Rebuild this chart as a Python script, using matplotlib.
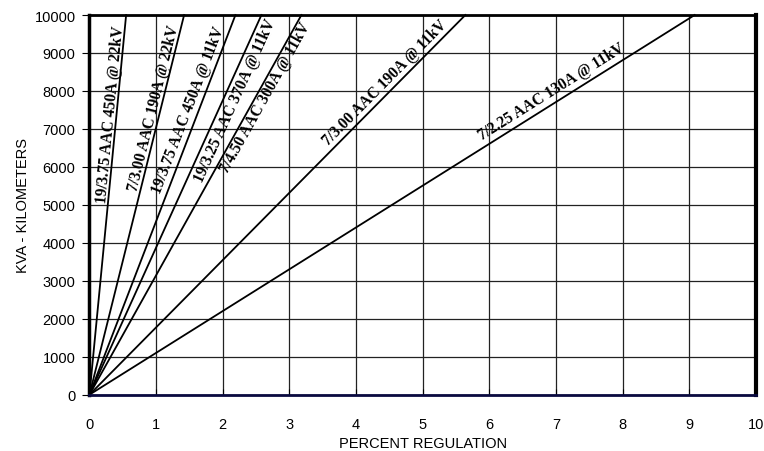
import numpy as np
import matplotlib
matplotlib.use('Agg')
import matplotlib.pyplot as plt
from matplotlib.transforms import offset_copy

# percent regulation reached at 10000 kVA-km for each conductor
labels = ['19/3.75 AAC 450A @ 22kV',
          '7/3.00 AAC 190A @ 22kV',
          '19/3.75 AAC 450A @ 11kV',
          '19/3.25 AAC 370A @ 11kV',
          '7/4.50 AAC 300A @ 11kV',
          '7/3.00 AAC 190A @ 11kV',
          '7/2.25 AAC 130A @ 11kV']
reg_at_10000 = [0.55, 1.42, 2.19, 2.58, 3.18, 5.64, 9.08]

# where the label sits along its line (kVA-km) and which side (+ above / - below, pixels)
label_y = [7380, 7530, 7430, 7880, 7950, 8045, 7740]
label_off = [6, 7, 10, -11, -9, 10, 11]

kva_km = [0, 10000]

fig = plt.figure(figsize=(7.64, 4.52), dpi=100)
ax = fig.add_axes([0.1171, 0.1246, 0.8724, 0.8400])

ax.set_xlim(0, 10)
ax.set_ylim(0, 10000)
ax.set_xticks(range(0, 11))
ax.set_yticks(range(0, 10001, 1000))
ax.grid(True, color='#222222', lw=0.9)
ax.set_axisbelow(True)

for lab, r, ly, off in zip(labels, reg_at_10000, label_y, label_off):
    ax.plot([0, r], kva_km, color='black', lw=1.3, clip_on=False)
    ang = np.degrees(np.arctan2(10000, r))
    # screen angle of the line, to push the text off it
    p0 = ax.transData.transform((0, 0))
    p1 = ax.transData.transform((r, 10000))
    th = np.arctan2(p1[1] - p0[1], p1[0] - p0[0])
    tr = offset_copy(ax.transData, fig=fig, x=-off * np.sin(th), y=off * np.cos(th), units='dots')
    ax.text(r * ly / 10000.0, ly, lab, rotation=ang, transform=tr, transform_rotates_text=True,
            rotation_mode='anchor', ha='center', va='center',
            family='Liberation Serif', fontweight='heavy', fontsize=11.2)

for s in ['left', 'right', 'top']:
    ax.spines[s].set_color('black')
ax.spines['left'].set_linewidth(2.5)
ax.spines['right'].set_linewidth(3)
ax.spines['top'].set_linewidth(2)
ax.spines['bottom'].set_color('#0a0a40')
ax.spines['bottom'].set_linewidth(2)

ax.tick_params(axis='x', direction='in', length=4, pad=16, labelsize=10.5)
ax.tick_params(axis='y', direction='out', length=5, pad=5, labelsize=10.5)
for t in ax.get_xticklabels() + ax.get_yticklabels():
    t.set_family('Liberation Sans')

ax.set_xlabel('PERCENT REGULATION', family='Liberation Sans', fontsize=10.5, labelpad=4)
ax.set_ylabel('KVA - KILOMETERS', family='Liberation Sans', fontsize=10.5, labelpad=3)

fig.savefig('out.png', dpi=100)
